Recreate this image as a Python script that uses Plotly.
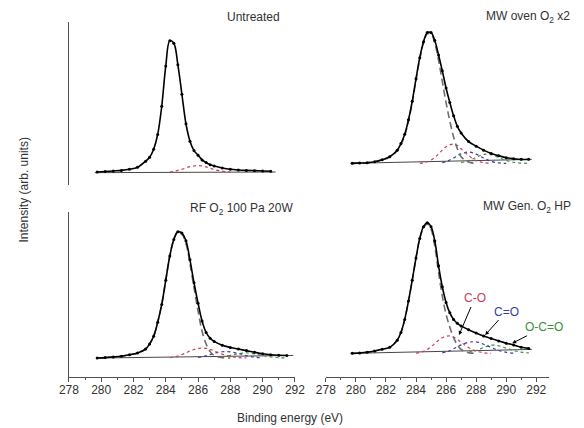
import plotly.graph_objects as go

N = None
# Binding energy grid (eV)
energy = [279.75, 280.25, 280.75, 281.25, 281.75, 282.25, 282.75, 283.0, 283.25, 283.5,
          283.75, 284.0, 284.25, 284.5, 284.75, 285.0, 285.25, 285.5, 285.75, 286.0,
          286.25, 286.5, 286.75, 287.0, 287.5, 288.0, 288.5, 289.0, 289.5, 290.0,
          290.5, 291.0, 291.5]

titles = ["Untreated", "MW oven O<sub>2</sub> x2", "RF O<sub>2</sub> 100 Pa 20W", "MW Gen. O<sub>2</sub> HP"]
x_ticks = [278, 280, 282, 284, 286, 288, 290, 292]

# Panel 1: Untreated
env_1 = [0.0, 0.004, 0.008, 0.012, 0.02, 0.035, 0.08, 0.11, 0.17, 0.28, 0.49, 0.79, 0.98, 0.96, 0.80,
         0.58, 0.36, 0.23, 0.16, 0.125, 0.09, 0.07, 0.055, 0.045, 0.03, 0.02, 0.015, 0.012, 0.01,
         0.008, 0.006, N, N]
co_1 = [N, N, N, N, N, N, N, N, N, N, N, N, 0.0, 0.005, 0.012, 0.02, 0.03, 0.04, 0.045, 0.048,
        0.045, 0.038, 0.028, 0.018, 0.006, 0.0, N, N, N, N, N, N, N]
bg_e_1 = [279.6, 290.8]
bg_1 = [-0.005, 0.0]

# Panel 2: MW oven O2 x2
env_2 = [0.0, 0.002, 0.005, 0.012, 0.027, 0.05, 0.10, 0.15, 0.22, 0.33, 0.47, 0.64, 0.80, 0.92, 0.99,
         0.99, 0.93, 0.82, 0.70, 0.57, 0.46, 0.36, 0.28, 0.23, 0.165, 0.13, 0.10, 0.075, 0.058, 0.043,
         0.035, 0.03, 0.03]
cc_2 = [0.0, 0.002, 0.005, 0.012, 0.026, 0.048, 0.095, 0.14, 0.21, 0.32, 0.46, 0.63, 0.79, 0.91, 0.98,
        0.98, 0.91, 0.78, 0.62, 0.46, 0.32, 0.20, 0.11, 0.05, 0.01, 0.0, N, N, N, N, N, N, N]
co_2 = [N, N, N, N, N, N, N, N, N, N, N, N, 0.0, 0.005, 0.012, 0.025, 0.045, 0.07, 0.10, 0.125,
        0.14, 0.145, 0.135, 0.11, 0.06, 0.02, 0.005, 0.0, N, N, N, N, N]
cdo_2 = [N, N, N, N, N, N, N, N, N, N, N, N, N, N, N, N, N, N, 0.005, 0.012, 0.025, 0.04, 0.058,
         0.072, 0.085, 0.07, 0.04, 0.015, 0.003, 0.0, N, N, N]
ocdo_2 = [N, N, N, N, N, N, N, N, N, N, N, N, N, N, N, N, N, N, N, N, N, N, N, 0.005, 0.02, 0.045,
          0.068, 0.065, 0.045, 0.022, 0.008, 0.002, 0.0]
bg_e_2 = [279.7, 291.7]
bg_2 = [0.0, 0.03]

# Panel 3: RF O2 100 Pa 20W
env_3 = [0.0, 0.003, 0.008, 0.014, 0.025, 0.04, 0.07, 0.11, 0.17, 0.28, 0.42, 0.61, 0.80, 0.93, 0.99,
         0.98, 0.92, 0.77, 0.59, 0.43, 0.29, 0.20, 0.155, 0.13, 0.10, 0.083, 0.07, 0.058, 0.045,
         0.033, 0.025, 0.021, 0.02]
cc_3 = [0.0, 0.003, 0.008, 0.014, 0.025, 0.04, 0.07, 0.11, 0.17, 0.28, 0.42, 0.61, 0.80, 0.93, 0.99,
        0.97, 0.90, 0.74, 0.55, 0.37, 0.21, 0.11, 0.05, 0.02, 0.003, 0.0, N, N, N, N, N, N, N]
co_3 = [N, N, N, N, N, N, N, N, N, N, N, N, 0.002, 0.007, 0.015, 0.027, 0.04, 0.055, 0.067, 0.075,
        0.078, 0.076, 0.068, 0.055, 0.03, 0.012, 0.003, 0.0, N, N, N, N, N]
cdo_3 = [N, N, N, N, N, N, N, N, N, N, N, N, N, N, N, N, N, N, N, 0.005, 0.01, 0.018, 0.027, 0.037,
         0.049, 0.048, 0.035, 0.018, 0.007, 0.001, N, N, N]
ocdo_3 = [N, N, N, N, N, N, N, N, N, N, N, N, N, N, N, N, N, N, N, N, N, N, N, N, 0.008, 0.02,
          0.034, 0.04, 0.033, 0.019, 0.008, 0.002, 0.0]
bg_e_3 = [279.9, 291.9]
bg_3 = [0.0, 0.02]

# Panel 4: MW Gen. O2 HP
env_4 = [0.0, 0.003, 0.008, 0.018, 0.032, 0.046, 0.10, 0.16, 0.26, 0.40, 0.56, 0.73, 0.88, 0.97, 1.0,
         0.97, 0.86, 0.67, 0.51, 0.39, 0.31, 0.26, 0.23, 0.21, 0.18, 0.155, 0.132, 0.113, 0.095,
         0.078, 0.064, 0.047, 0.038]
cc_4 = [0.0, 0.003, 0.008, 0.018, 0.032, 0.046, 0.10, 0.16, 0.26, 0.40, 0.56, 0.73, 0.88, 0.96, 0.99,
        0.95, 0.82, 0.62, 0.44, 0.30, 0.20, 0.12, 0.065, 0.03, 0.005, 0.0, N, N, N, N, N, N, N]
co_4 = [N, N, N, N, N, N, N, N, N, N, N, 0.002, 0.006, 0.015, 0.03, 0.05, 0.075, 0.10, 0.12, 0.131,
        0.133, 0.125, 0.108, 0.085, 0.045, 0.018, 0.005, 0.0, N, N, N, N, N]
cdo_4 = [N, N, N, N, N, N, N, N, N, N, N, N, N, N, N, N, N, N, 0.004, 0.01, 0.02, 0.035, 0.05,
         0.065, 0.085, 0.088, 0.07, 0.045, 0.022, 0.008, 0.002, N, N]
ocdo_4 = [N, N, N, N, N, N, N, N, N, N, N, N, N, N, N, N, N, N, N, N, N, N, N, N, 0.008, 0.022,
          0.045, 0.063, 0.058, 0.04, 0.022, 0.009, 0.003]
bg_e_4 = [279.7, 291.7]
bg_4 = [0.0, 0.03]

labels_4 = ["C-O", "C=O", "O-C=O"]

W, H = 584, 428
RED = "rgb(205,60,85)"
BLUE = "rgb(55,60,165)"
GREEN = "rgb(60,140,60)"
GRAY = "rgb(110,110,110)"

fig = go.Figure()

panels = [
    dict(env=env_1, cc=None, co=co_1, cdo=None, ocdo=None, bge=bg_e_1, bg=bg_1),
    dict(env=env_2, cc=cc_2, co=co_2, cdo=cdo_2, ocdo=ocdo_2, bge=bg_e_2, bg=bg_2),
    dict(env=env_3, cc=cc_3, co=co_3, cdo=cdo_3, ocdo=ocdo_3, bge=bg_e_3, bg=bg_3),
    dict(env=env_4, cc=cc_4, co=co_4, cdo=cdo_4, ocdo=ocdo_4, bge=bg_e_4, bg=bg_4),
]

for i, p in enumerate(panels, start=1):
    xa = "x" if i == 1 else f"x{i}"
    ya = "y" if i == 1 else f"y{i}"
    fig.add_trace(go.Scatter(x=p["bge"], y=p["bg"], mode="lines", xaxis=xa, yaxis=ya,
                             line=dict(color="rgb(70,70,70)", width=1), showlegend=False))
    for key, col in (("ocdo", GREEN), ("cdo", BLUE), ("co", RED)):
        if p[key] is not None:
            fig.add_trace(go.Scatter(x=energy, y=p[key], mode="lines", xaxis=xa, yaxis=ya,
                                     line=dict(color=col, width=1.2, dash="dot", shape="spline"),
                                     showlegend=False))
    if p["cc"] is not None:
        fig.add_trace(go.Scatter(x=energy, y=p["cc"], mode="lines", xaxis=xa, yaxis=ya,
                                 line=dict(color=GRAY, width=1.6, dash="7px,4px", shape="spline"),
                                 showlegend=False))
    fig.add_trace(go.Scatter(x=energy, y=p["env"], mode="lines+markers", xaxis=xa, yaxis=ya,
                             line=dict(color="black", width=1.6, shape="spline"),
                             marker=dict(color="black", size=3),
                             showlegend=False))

def xdom(a, b):
    return [a / W, b / W]

def ydom(top, bottom):
    return [1 - bottom / H, 1 - top / H]

tickfont = dict(family="Liberation Sans, Arial, sans-serif", size=12, color="rgb(50,50,50)")

hidden_x = dict(showline=False, showticklabels=False, ticks="", showgrid=False, zeroline=False)
shown_x = dict(showline=True, linecolor="rgb(80,80,80)", linewidth=1, ticks="outside", ticklen=4,
               tickcolor="rgb(80,80,80)", tickvals=x_ticks, ticktext=[str(t) for t in x_ticks],
               tickfont=tickfont, showgrid=False, zeroline=False, ticklabelstandoff=-2,
               minor=dict(dtick=1, tick0=279, ticks="outside", ticklen=2, tickcolor="rgb(80,80,80)"))

fig.update_layout(
    width=W, height=H, margin=dict(l=0, r=0, t=0, b=0), autosize=False,
    paper_bgcolor="white", plot_bgcolor="white",
    xaxis=dict(domain=xdom(61, 295), range=[278, 292], anchor="y", **hidden_x),
    yaxis=dict(domain=ydom(22, 185), range=[-0.097, 1.119], showline=True, linecolor="rgb(80,80,80)",
               linewidth=1, showticklabels=False, ticks="", showgrid=False, zeroline=False, anchor="x"),
    xaxis2=dict(domain=xdom(327, 558), range=[278, 292.84], anchor="y2", **hidden_x),
    yaxis2=dict(domain=ydom(22, 185), range=[-0.164, 1.07], showline=False, showticklabels=False,
                ticks="", showgrid=False, zeroline=False, anchor="x2"),
    xaxis3=dict(domain=xdom(61, 295), range=[278, 292], anchor="y3", **shown_x),
    yaxis3=dict(domain=ydom(212, 377), range=[-0.149, 1.145], showline=True, linecolor="rgb(80,80,80)",
                linewidth=1, showticklabels=False, ticks="", showgrid=False, zeroline=False, anchor="x3"),
    xaxis4=dict(domain=xdom(327, 558), range=[278, 292.84], anchor="y4", **shown_x),
    yaxis4=dict(domain=ydom(212, 377), range=[-0.181, 1.082], showline=False, showticklabels=False,
                ticks="", showgrid=False, zeroline=False, anchor="x4"),
)

font = dict(family="Liberation Sans, Arial, sans-serif", size=12, color="rgb(50,50,50)")
title_pos = [(282, 17), (582, 17), (295, 209), (583, 207)]
for t, (px, py) in zip(titles, title_pos):
    fig.add_annotation(text=t, xref="paper", yref="paper", x=px / W, y=1 - py / H,
                       xanchor="right", yanchor="middle", showarrow=False, font=font)

fig.add_annotation(text="Intensity (arb. units)", xref="paper", yref="paper", x=15 / W, y=1 - 190 / H,
                   textangle=-90, showarrow=False, font=font, xanchor="center", yanchor="middle")
fig.add_annotation(text="Binding energy (eV)", xref="paper", yref="paper", x=290 / W, y=1 - 418 / H,
                   showarrow=False, font=font, xanchor="center", yanchor="middle")

# Peak labels with arrows in the bottom-right panel (text at arrow tail, head on the curve)
label_cols = [RED, BLUE, GREEN]
label_xy = [(287.9, 0.42), (290.0, 0.32), (292.5, 0.20)]
arrow_head = [(286.86, 0.14), (288.6, 0.14), (290.4, 0.077)]
for lab, col, (tx, ty), (hx, hy) in zip(labels_4, label_cols, label_xy, arrow_head):
    fig.add_annotation(text=lab, x=hx, y=hy, ax=tx, ay=ty, xref="x4", yref="y4", axref="x4", ayref="y4",
                       showarrow=True, arrowhead=2, arrowsize=0.8, arrowwidth=1, arrowcolor="black",
                       font=dict(family="Liberation Sans, Arial, sans-serif", size=12, color=col))

fig.write_html("out.html", config={"displayModeBar": False},
               post_script="document.body.style.margin='0';document.body.style.padding='0';")
